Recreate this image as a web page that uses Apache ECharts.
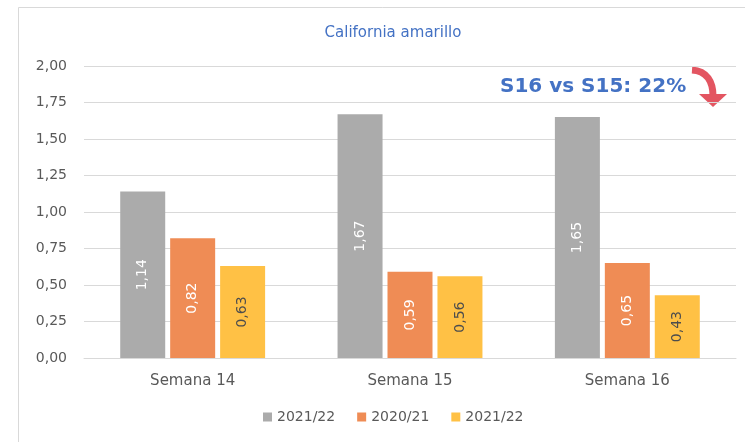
<!DOCTYPE html>
<html>
<head>
<meta charset="utf-8">
<script src="https://cdn.jsdelivr.net/npm/echarts@6/dist/echarts.min.js"></script>
<style>
  html, body { margin: 0; padding: 0; background: #fff; }
  #chart { width: 745px; height: 442px; }
</style>
</head>
<body>
<div id="chart"></div>
<script>
//categories and series values
const weeks = ["Semana 14", "Semana 15", "Semana 16"];
const seriesNames = ["2021/22", "2020/21", "2021/22 "];
const grayValues = [1.14, 1.67, 1.65];
const orangeValues = [0.82, 0.59, 0.65];
const yellowValues = [0.63, 0.56, 0.43];
const colors = ["#ABABAB", "#EF8C55", "#FFC145"];
const labelColors = ["#ffffff", "#ffffff", "#4d4d4d"];

const font = "DejaVu Sans";
const textGray = "#595959";
const fmt = v => v.toFixed(2).replace(".", ",");

const chart = echarts.init(document.getElementById("chart"));

//one bar series per season
const makeSeries = (name, values, i) => ({
    name: name,
    type: "bar",
    data: values,
    barWidth: 45,
    barGap: "11%",
    itemStyle: { color: colors[i] },
    label: {
        show: true,
        position: "inside",
        rotate: 90,
        color: labelColors[i],
        fontFamily: font,
        fontSize: 14,
        formatter: p => fmt(p.value)
    }
});

const option = {
    animation: false,
    backgroundColor: "#fff",
    title: {
        text: "California amarillo",
        left: 388,
        top: 21,
        textAlign: "center",
        textStyle: { color: "#4472C4", fontFamily: font, fontSize: 15, fontWeight: "normal" }
    },
    legend: {
        bottom: 13,
        left: 258,
        itemWidth: 9,
        itemHeight: 9,
        itemGap: 22,
        icon: "rect",
        textStyle: { color: textGray, fontFamily: font, fontSize: 14 },
        formatter: name => name.trim(),
        data: seriesNames
    },
    grid: { left: 84, right: 9, top: 66, bottom: 84 },
    xAxis: {
        type: "category",
        data: weeks,
        axisTick: { show: false },
        axisLine: { lineStyle: { color: "#d9d9d9" } },
        axisLabel: { color: textGray, fontFamily: font, fontSize: 15, margin: 16 }
    },
    yAxis: {
        type: "value",
        min: 0,
        max: 2,
        interval: 0.25,
        axisLabel: { color: textGray, fontFamily: font, fontSize: 14, margin: 17, formatter: fmt },
        splitLine: { lineStyle: { color: "#d9d9d9", width: 1 } }
    },
    series: [
        makeSeries(seriesNames[0], grayValues, 0),
        makeSeries(seriesNames[1], orangeValues, 1),
        makeSeries(seriesNames[2], yellowValues, 2)
    ],
    graphic: [
        //chart frame (only left and top edges visible)
        { type: "rect", shape: { x: 18.5, y: 7.5, width: 900, height: 600 }, style: { fill: null, stroke: "#d9d9d9", lineWidth: 1 }, silent: true },
        //annotation
        { type: "text", left: 500, top: 77, style: { text: "S16 vs S15: 22%", fill: "#4472C4", font: "bold 20px 'DejaVu Sans'" } },
        { type: "bezierCurve", shape: { x1: 692, y1: 70, cpx1: 707, cpy1: 71, cpx2: 713, cpy2: 82, x2: 713, y2: 96 }, style: { stroke: "#E35561", lineWidth: 7, fill: null } },
        { type: "polygon", shape: { points: [[699, 94], [727, 94], [713, 107]] }, style: { fill: "#E35561" } }
    ]
};

chart.setOption(option);
</script>
</body>
</html>
